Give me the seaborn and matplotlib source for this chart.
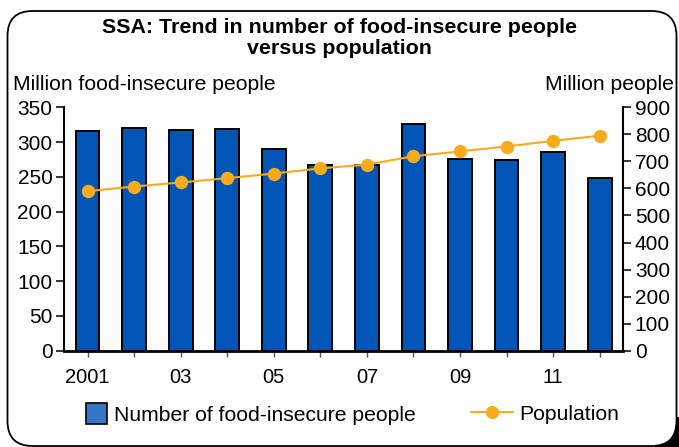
import matplotlib
matplotlib.use("Agg")
import matplotlib.pyplot as plt
import seaborn as sns
import pandas as pd
from matplotlib.patches import FancyBboxPatch, Patch, Rectangle
from matplotlib.lines import Line2D

years = [2001, 2002, 2003, 2004, 2005, 2006, 2007, 2008, 2009, 2010, 2011, 2012]
year_labels = ["2001", "", "03", "", "05", "", "07", "", "09", "", "11", ""]
food_insecure = [316, 320, 318, 319, 290, 267, 267, 326, 276, 274, 286, 249]
population = [590, 607, 622, 638, 655, 674, 688, 719, 737, 755, 776, 795]

bar_color = "#0055B7"
legend_bar_color = "#3577C7"
line_color = "#F9AB1E"

sns.set_theme(style="white")
plt.rcParams['font.family'] = ['Liberation Sans', 'DejaVu Sans']
plt.rcParams['text.color'] = 'black'
plt.rcParams['axes.labelcolor'] = 'black'
plt.rcParams['xtick.color'] = 'black'
plt.rcParams['ytick.color'] = 'black'

df = pd.DataFrame({"year": [str(y) for y in years],
                   "food": food_insecure,
                   "pop": population})

fig = plt.figure(figsize=(6.79, 4.47), dpi=100)

# rounded frame (in inches) with dark corner at bottom-right
fig.patches.append(Rectangle((6.55, 0.0), 0.24, 0.3, transform=fig.dpi_scale_trans,
                             facecolor="black", edgecolor="none", zorder=-3))
frame = FancyBboxPatch((0.075, 0.01), 6.69, 4.35,
                       boxstyle="round,pad=0,rounding_size=0.25",
                       transform=fig.dpi_scale_trans, facecolor="white",
                       edgecolor="black", linewidth=1.3, zorder=-2)
fig.patches.append(frame)

ax = fig.add_axes([0.0947, 0.2154, 0.8228, 0.5446])

sns.barplot(data=df, x="year", y="food", ax=ax, color=bar_color,
            width=0.51, edgecolor="black", linewidth=1.4, saturation=1)
ax.set_xlim(-0.5, 11.5)
ax.set_ylim(0, 350)
ax.set_yticks(range(0, 351, 50))
ax.set_xticks(range(len(years)))
ax.set_xticklabels(year_labels)
ax.set_xlabel("")
ax.set_ylabel("")
ax.patch.set_visible(False)

ax2 = ax.twinx()
sns.pointplot(data=df, x="year", y="pop", ax=ax2, color=line_color,
              markers="o", markersize=8.5, linewidth=1.5)
ax2.set_xlim(-0.5, 11.5)
ax2.set_ylim(0, 900)
ax2.set_yticks(range(0, 901, 100))
ax2.set_ylabel("")
ax2.set_xlabel("")
ax2.patch.set_visible(False)

for a in (ax, ax2):
    for s in a.spines.values():
        s.set_visible(False)
ax.spines["left"].set_visible(True)
ax.spines["left"].set_color("black")
ax.spines["left"].set_linewidth(1.5)
ax.spines["bottom"].set_visible(True)
ax.spines["bottom"].set_color("black")
ax.spines["bottom"].set_linewidth(2.0)
ax2.spines["right"].set_visible(True)
ax2.spines["right"].set_color("black")
ax2.spines["right"].set_linewidth(1.5)

ax.tick_params(axis="y", left=True, length=5.5, width=1.1, color="black",
               labelsize=15, labelcolor="black", pad=3)
ax.tick_params(axis="x", bottom=True, length=4.5, width=1.0, color="#555555",
               labelsize=14.5, labelcolor="black", pad=8)
ax2.tick_params(axis="y", right=True, length=5.5, width=1.1, color="black",
                labelsize=15, labelcolor="black", pad=3)
ax.grid(False)
ax2.grid(False)

fig.text(0.5, 0.9262, "SSA: Trend in number of food-insecure people",
         ha="center", va="baseline", fontsize=15.4, fontweight="bold",
         color="black")
fig.text(0.5, 0.8795, "versus population",
         ha="center", va="baseline", fontsize=15.4, fontweight="bold",
         color="black")
fig.text(12.7 / 679, 0.7987, "Million food-insecure people", ha="left",
         va="baseline", fontsize=15.2, color="black")
fig.text(674 / 679, 0.7987, "Million people", ha="right", va="baseline",
         fontsize=15.2, color="black")

leg1 = fig.legend([Patch(facecolor=legend_bar_color, edgecolor="black", linewidth=1.2)],
                  ["Number of food-insecure people"],
                  loc="center left", bbox_to_anchor=(86 / 679, 0.0738),
                  frameon=False, fontsize=15.2, handlelength=1.0,
                  handleheight=1.09, handletextpad=0.35, borderpad=0,
                  borderaxespad=0, labelcolor="black")
leg2 = fig.legend([Line2D([0], [0], color=line_color, lw=1.5, marker="o",
                          markersize=8.5)],
                  ["Population"],
                  loc="center left", bbox_to_anchor=(470.7 / 679, 0.0738),
                  frameon=False, fontsize=15.2, handlelength=2.0,
                  handletextpad=0.3, borderpad=0, borderaxespad=0,
                  labelcolor="black")

fig.savefig("out.png", dpi=100)
